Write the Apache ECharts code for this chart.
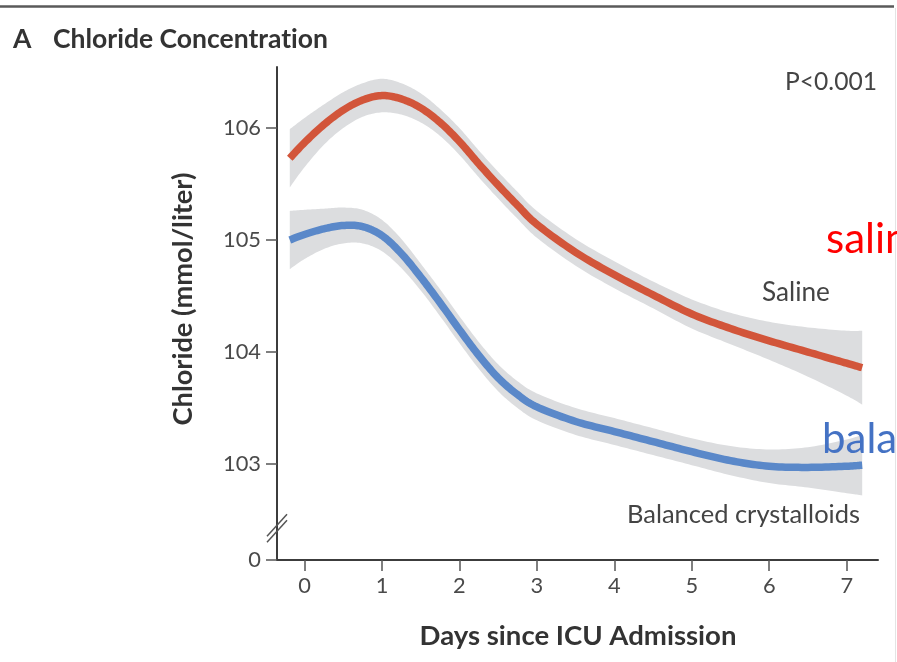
<!DOCTYPE html>
<html>
<head>
<meta charset="utf-8">
<script src="https://cdn.jsdelivr.net/npm/echarts@6/dist/echarts.min.js"></script>
<style>
  html, body { margin: 0; padding: 0; background: #ffffff; }
  #chart { width: 897px; height: 662px; }
</style>
</head>
<body>
<div id="chart"></div>
<script>
// Days since ICU admission at which the fitted curves are sampled
const days = [-0.19, 0, 0.25, 0.5, 0.75, 1, 1.25, 1.5, 1.75, 2, 2.25, 2.5, 2.75, 3, 3.5, 4, 4.5, 5, 5.5, 6, 6.5, 7, 7.2];

// Mean chloride (mmol/liter), saline group
const salineMean = [105.73, 105.87, 106.03, 106.16, 106.25, 106.29, 106.26, 106.18, 106.05, 105.88, 105.68, 105.49, 105.31, 105.14, 104.89, 104.69, 104.51, 104.34, 104.21, 104.10, 104.00, 103.90, 103.86];
// Half-width of the 95% confidence band, saline group
const salineHalfCI = [0.26, 0.22, 0.18, 0.16, 0.15, 0.15, 0.14, 0.13, 0.12, 0.12, 0.12, 0.12, 0.12, 0.12, 0.12, 0.12, 0.12, 0.13, 0.14, 0.17, 0.22, 0.29, 0.33];

// Mean chloride (mmol/liter), balanced crystalloids group
const balancedMean = [105.00, 105.05, 105.10, 105.13, 105.12, 105.04, 104.88, 104.67, 104.44, 104.20, 103.97, 103.77, 103.62, 103.51, 103.38, 103.29, 103.20, 103.11, 103.03, 102.98, 102.97, 102.98, 102.99];
// Half-width of the 95% confidence band, balanced crystalloids group
const balancedHalfCI = [0.26, 0.22, 0.18, 0.16, 0.15, 0.14, 0.13, 0.12, 0.12, 0.12, 0.12, 0.12, 0.12, 0.12, 0.12, 0.12, 0.12, 0.12, 0.13, 0.15, 0.18, 0.24, 0.27];

// Axis ticks
const xTickValues = [0, 1, 2, 3, 4, 5, 6, 7];
const yTickLabels = ['0', '103', '104', '105', '106'];
const yTickNumbers = [103, 104, 105, 106];

// Broken y axis: the bottom of the axis stands for 0
const yAxisMin = 102.143;
const yAxisMax = 106.545;
const yBreakValue = 102.4;
const xAxisMin = -0.355;
const xAxisMax = 7.404;

const yTickValues = [yAxisMin].concat(yTickNumbers);

// Font sizing helper: size a string so it spans a given width
const FONT = 'Lato, "Open Sans", sans-serif';
const measureCtx = document.createElement('canvas').getContext('2d');
function fitSize(text, weight, width) {
  measureCtx.font = weight + ' 100px ' + FONT;
  return 100 * width / measureCtx.measureText(text).width;
}

// zero-width non-joiner keeps Lato from joining "ti"
const titleText = 'Chloride Concentrat\u200Cion';

const tickSize = fitSize('106', 'normal', 38);
const titleSize = fitSize(titleText, 'bold', 275);
const xNameSize = fitSize('Days since ICU Admission', 'bold', 317);
const yNameSize = fitSize('Chloride (mmol/liter)', 'bold', 253);
const pSize = fitSize('P<0.001', 'normal', 92);
const salineSize = fitSize('Saline', 'normal', 68);
const balancedSize = fitSize('Balanced crystalloids', 'normal', 233);

const BAND = '#dcdddf';
const RED = '#d2553a';
const BLUE = '#5a88c9';

// Catmull-Rom curve through pixel points
function spline(pts, steps) {
  const out = [];
  const n = pts.length;
  for (let i = 0; i < n - 1; i++) {
    const p0 = pts[Math.max(i - 1, 0)], p1 = pts[i], p2 = pts[i + 1], p3 = pts[Math.min(i + 2, n - 1)];
    for (let s = 0; s < steps; s++) {
      const t = s / steps, t2 = t * t, t3 = t2 * t;
      const f = (a, b, c, d) => 0.5 * ((2 * b) + (-a + c) * t + (2 * a - 5 * b + 4 * c - d) * t2 + (-a + 3 * b - 3 * c + d) * t3);
      out.push([f(p0[0], p1[0], p2[0], p3[0]), f(p0[1], p1[1], p2[1], p3[1])]);
    }
  }
  out.push(pts[n - 1].slice());
  return out;
}

// Confidence band: the area between mean + half-width and mean - half-width
function bandSeries(means, halfs) {
  return {
    type: 'custom',
    silent: true,
    z: 1,
    clip: false,
    data: [[days[0], means[0]]],
    renderItem: function (params, api) {
      const upper = days.map((d, i) => api.coord([d, means[i] + halfs[i]]));
      const lower = days.map((d, i) => api.coord([d, means[i] - halfs[i]]));
      const pts = spline(upper, 12).concat(spline(lower, 12).reverse());
      return { type: 'polygon', shape: { points: pts }, style: { fill: BAND, stroke: null } };
    }
  };
}

// Mean curve
function meanSeries(means, color) {
  return {
    type: 'custom',
    silent: true,
    z: 2,
    clip: false,
    data: [[days[0], means[0]]],
    renderItem: function (params, api) {
      const pts = spline(days.map((d, i) => api.coord([d, means[i]])), 12);
      return { type: 'polyline', shape: { points: pts }, style: { fill: null, stroke: color, lineWidth: 7.5, lineCap: 'butt', lineJoin: 'round' } };
    }
  };
}

const chart = echarts.init(document.getElementById('chart'), null, { renderer: 'canvas' });

const option = {
  animation: false,
  backgroundColor: '#ffffff',
  grid: { left: 277, right: 19, top: 67, bottom: 102, containLabel: false },
  xAxis: {
    type: 'value',
    min: xAxisMin,
    max: xAxisMax,
    z: 5,
    splitLine: { show: false },
    axisLine: { show: true, onZero: false, lineStyle: { color: '#3c3c3c', width: 2 } },
    axisTick: { show: true, length: 11, customValues: xTickValues, lineStyle: { color: '#555', width: 1.5 } },
    axisLabel: {
      customValues: xTickValues,
      margin: 15,
      color: '#4a4a4a',
      fontFamily: FONT,
      fontSize: tickSize
    }
  },
  yAxis: {
    type: 'value',
    min: yAxisMin,
    max: yAxisMax,
    z: 5,
    splitLine: { show: false },
    axisLine: { show: true, onZero: false, lineStyle: { color: '#3c3c3c', width: 2 } },
    axisTick: { show: true, length: 11, customValues: yTickValues, lineStyle: { color: '#555', width: 1.5 } },
    axisLabel: {
      customValues: yTickValues,
      margin: 16,
      color: '#4a4a4a',
      fontFamily: FONT,
      fontSize: tickSize,
      formatter: function (v) {
        const i = yTickValues.findIndex(t => Math.abs(t - v) < 1e-6);
        return i >= 0 ? yTickLabels[i] : '';
      }
    }
  },
  series: [
    bandSeries(salineMean, salineHalfCI),
    bandSeries(balancedMean, balancedHalfCI),
    meanSeries(salineMean, RED),
    meanSeries(balancedMean, BLUE)
  ]
};

chart.setOption(option);

// Break marks on the y axis, placed through the axis scales
const breakPt = chart.convertToPixel({ gridIndex: 0 }, [xAxisMin, yBreakValue]);
const bx = breakPt[0], by = breakPt[1];

chart.setOption({
  graphic: [
    // rule across the top of the panel
    { type: 'line', shape: { x1: 0, y1: 6.5, x2: 894, y2: 6.5 }, style: { stroke: '#5a5a5a', lineWidth: 2.5 }, z: 10 },
    { type: 'line', shape: { x1: 895.5, y1: 8, x2: 895.5, y2: 662 }, style: { stroke: '#e4e4e4', lineWidth: 1 }, z: 10 },
    // panel title
    { type: 'text', style: { x: 13, y: 39, text: 'A', font: 'bold ' + titleSize + 'px ' + FONT, fill: '#333', verticalAlign: 'middle' }, z: 10 },
    { type: 'text', style: { x: 53, y: 39, text: titleText, font: 'bold ' + titleSize + 'px ' + FONT, fill: '#333', verticalAlign: 'middle' }, z: 10 },
    // axis titles
    { type: 'text', x: 183, y: 299, rotation: Math.PI / 2, style: { x: 0, y: 0, text: 'Chloride (mmol/liter)', font: 'bold ' + yNameSize + 'px ' + FONT, fill: '#333', align: 'center', verticalAlign: 'middle' }, z: 10 },
    { type: 'text', style: { x: 578, y: 636, text: 'Days since ICU Admission', font: 'bold ' + xNameSize + 'px ' + FONT, fill: '#333', align: 'center', verticalAlign: 'middle' }, z: 10 },
    // annotations
    { type: 'text', style: { x: 877, y: 82, text: 'P<0.001', font: pSize + 'px ' + FONT, fill: '#444', align: 'right', verticalAlign: 'middle' }, z: 10 },
    { type: 'text', style: { x: 762, y: 293, text: 'Saline', font: salineSize + 'px ' + FONT, fill: '#444', align: 'left', verticalAlign: 'middle' }, z: 10 },
    { type: 'text', style: { x: 627, y: 515, text: 'Balanced crystalloids', font: balancedSize + 'px ' + FONT, fill: '#444', align: 'left', verticalAlign: 'middle' }, z: 10 },
    { type: 'text', style: { x: 826, y: 239, text: 'saline', font: '42px ' + FONT, fill: '#ff0000', align: 'left', verticalAlign: 'middle' }, z: 11 },
    { type: 'text', style: { x: 822, y: 439, text: 'balanced', font: '42px ' + FONT, fill: '#4472c4', align: 'left', verticalAlign: 'middle' }, z: 11 },
    // axis break
    { type: 'line', shape: { x1: bx - 10, y1: by + 5, x2: bx + 10, y2: by - 17 }, style: { stroke: '#555', lineWidth: 1.5 }, z: 12 },
    { type: 'line', shape: { x1: bx - 10, y1: by + 11, x2: bx + 10, y2: by - 11 }, style: { stroke: '#555', lineWidth: 1.5 }, z: 12 }
  ]
});
</script>
</body>
</html>
